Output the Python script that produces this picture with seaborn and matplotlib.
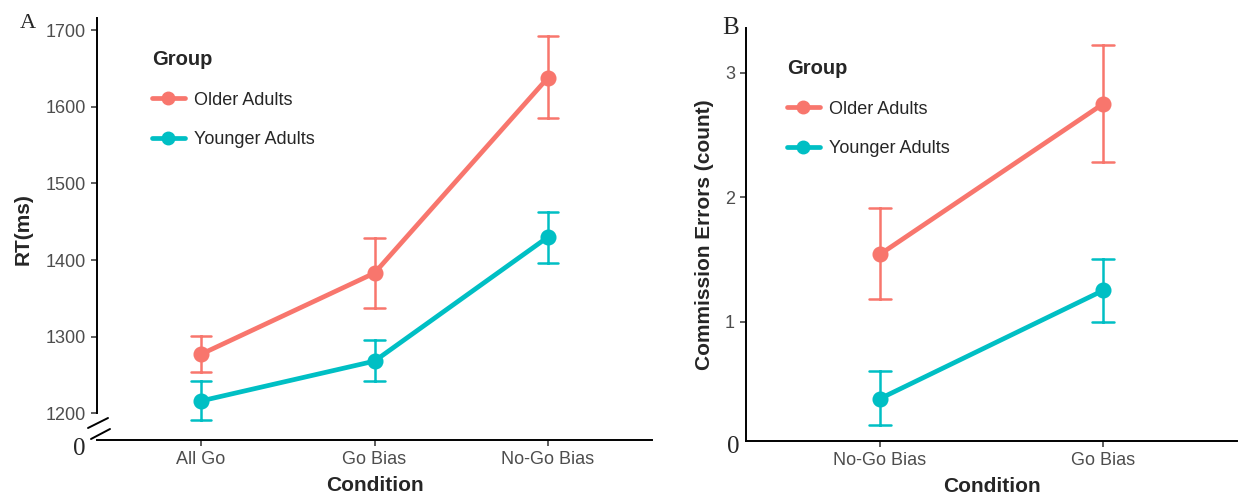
import numpy as np
import pandas as pd
import matplotlib
matplotlib.use("Agg")
import matplotlib.pyplot as plt
from matplotlib.lines import Line2D
import seaborn as sns

# ---------------- data ----------------
groups = ["Older Adults", "Younger Adults"]
colors = ["#F8766D", "#00BFC4"]

conds_A = ["All Go", "Go Bias", "No-Go Bias"]
older_rt = [1277, 1383, 1638]
older_rt_lo = [1254, 1338, 1585]
older_rt_hi = [1301, 1429, 1692]
younger_rt = [1216, 1268, 1430]
younger_rt_lo = [1191, 1242, 1396]
younger_rt_hi = [1242, 1295, 1463]
yticks_A = [1200, 1300, 1400, 1500, 1600, 1700]

conds_B = ["No-Go Bias", "Go Bias"]
older_err = [1.54, 2.75]
older_err_lo = [1.18, 2.28]
older_err_hi = [1.91, 3.22]
younger_err = [0.38, 1.25]
younger_err_lo = [0.17, 1.00]
younger_err_hi = [0.60, 1.50]
yticks_B = [1, 2, 3]


def long_form(conds, series):
    rows = []
    for g, (mean, lo, hi) in series.items():
        for c, m, l, h in zip(conds, mean, lo, hi):
            for v in (l, m, h):
                rows.append({"Condition": c, "Group": g, "value": v})
    return pd.DataFrame(rows)


dfA = long_form(conds_A, {groups[0]: (older_rt, older_rt_lo, older_rt_hi),
                          groups[1]: (younger_rt, younger_rt_lo, younger_rt_hi)})
dfB = long_form(conds_B, {groups[0]: (older_err, older_err_lo, older_err_hi),
                          groups[1]: (younger_err, younger_err_lo, younger_err_hi)})

# ---------------- style ----------------
sns.set_theme(style="white")
plt.rcParams["font.family"] = ["Liberation Sans", "DejaVu Sans"]

W, H = 1244, 498
fig = plt.figure(figsize=(W / 100, H / 100), dpi=100)
axA = fig.add_axes([97 / W, 1 - 440 / H, (652 - 97) / W, (440 - 18) / H])
axB = fig.add_axes([746 / W, 1 - 441 / H, (1237 - 746) / W, (441 - 28) / H])

tick_gray = "#4D4D4D"
palette = dict(zip(groups, colors))


def draw(ax, df, order, capsize, anchor):
    sns.pointplot(data=df, x="Condition", y="value", hue="Group", order=order,
                  hue_order=groups, palette=palette, estimator="median",
                  errorbar=lambda v: (v.min(), v.max()), capsize=capsize,
                  markers="o", linestyles="-", linewidth=3.4, markersize=9,
                  err_kws={"linewidth": 1.8}, legend=False, ax=ax)
    for s in ["top", "right"]:
        ax.spines[s].set_visible(False)
    for s in ["left", "bottom"]:
        ax.spines[s].set_color("black")
        ax.spines[s].set_linewidth(1.4)
    ax.tick_params(axis="both", which="both", length=4, width=1.1, color="#333333",
                   labelcolor=tick_gray, labelsize=13, pad=4, left=True, bottom=True)
    ax.set_xlabel("Condition", fontsize=15, fontweight="bold", labelpad=6)
    ax.grid(False)
    handles = [Line2D([0], [0], color=c, lw=3.4, marker="o", markersize=9) for c in colors]
    leg = ax.legend(handles, groups, title="Group", loc="upper left", frameon=False,
                    fontsize=13, title_fontproperties={"weight": "bold", "size": 14.5},
                    handlelength=1.8, handletextpad=0.55, labelspacing=1.25,
                    borderpad=0, alignment="left", bbox_to_anchor=anchor,
                    bbox_transform=ax.transAxes)
    return leg


# Panel A
draw(axA, dfA, conds_A, 0.12, ((143 - 97) / (652 - 97), (440 - 41) / (440 - 18)))
axA.set_xlim(-0.6, 2.6)
axA.set_ylim(1165, 1716)
axA.set_yticks(yticks_A)
axA.spines["left"].set_bounds(1200, 1716)
axA.set_ylabel("RT(ms)", fontsize=15, fontweight="bold", labelpad=9)

# Panel B
draw(axB, dfB, conds_B, 0.1, ((778 - 746) / (1237 - 746), (441 - 50) / (441 - 28)))
axB.set_xlim(-0.6, 1.6)
axB.set_ylim(0.04, 3.36)
axB.set_yticks(yticks_B)
axB.set_ylabel("Commission Errors (count)", fontsize=15, fontweight="bold", labelpad=8)

# axis break marks in panel A
for (x0, y0, x1, y1) in [(88, 428, 108, 418), (91, 439, 110, 429)]:
    fig.add_artist(Line2D([x0 / W, x1 / W], [1 - y0 / H, 1 - y1 / H],
                          transform=fig.transFigure, color="black", lw=1.4))

serif = ["Liberation Serif", "DejaVu Serif"]
fig.text(28 / W, 1 - 24 / H, "A", family=serif, fontsize=16, ha="center", va="center")
fig.text(731 / W, 1 - 28 / H, "B", family=serif, fontsize=18, ha="center", va="center")
fig.text(79 / W, 1 - 449 / H, "0", family=serif, fontsize=18, ha="center", va="center")
fig.text(733 / W, 1 - 447 / H, "0", family=serif, fontsize=18, ha="center", va="center")

fig.savefig("out.png", dpi=100)
